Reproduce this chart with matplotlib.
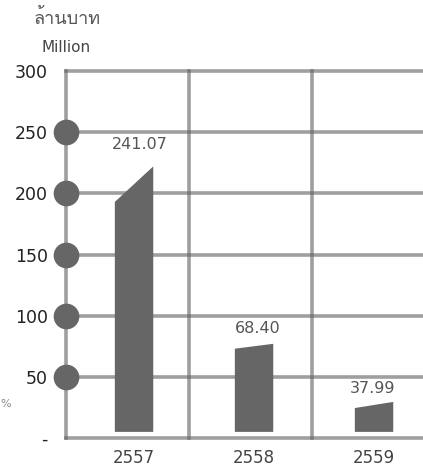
import matplotlib
matplotlib.use('Agg')
import matplotlib.pyplot as plt
from matplotlib import font_manager
from matplotlib.ft2font import FT2Font

# data
years = ['2557', '2558', '2559']
values = [241.07, 68.40, 37.99]          # printed labels
bar_left_top = [193, 73, 24.5]            # drawn slanted tops (left edge)
bar_right_top = [222, 77, 29.5]           # drawn slanted tops (right edge)
bar_bottom = 5
y_ticks = [0, 50, 100, 150, 200, 250, 300]
y_labels = ['-', '50', '100', '150', '200', '250', '300']
dot_levels = [50, 100, 150, 200, 250]

# find an installed regular-weight font that has Thai glyphs
thai_family = None
for f in sorted(font_manager.fontManager.ttflist,
                key=lambda f: abs(int(f.weight) - 400) if str(f.weight).isdigit() else 500):
    try:
        if f.style == 'normal' and 0x0E25 in FT2Font(f.fname).get_charmap():
            thai_family = f.name
            break
    except Exception:
        pass
title_fonts = [thai_family, 'DejaVu Sans'] if thai_family else ['DejaVu Sans']

plt.rcParams['font.family'] = ['DejaVu Sans']

W, H = 423, 474
fig = plt.figure(figsize=(W / 100, H / 100), dpi=100)
ax = fig.add_axes([66 / W, (H - 438) / H, (W - 66) / W, (438 - 71) / H])
ax.set_xlim(-0.567, 2.408)
ax.set_ylim(0, 300)
for s in ax.spines.values():
    s.set_visible(False)

grid_kw = dict(color='#606060', alpha=0.6, lw=2.6, clip_on=False, zorder=1)
for y in y_ticks:
    ax.axhline(y, **grid_kw)
for x in [-0.567, 0.458, 1.483]:
    ax.axvline(x, **grid_kw)

# dots on the left axis
ax.plot([-0.567] * len(dot_levels), dot_levels, 'o', ms=18.5, color='#666666',
        mew=0, clip_on=False, zorder=4)

# slanted bars
bw = 0.32
label_gap = [12, 6, 4.5]
label_shift = [0.05, 0.035, -0.015]
for i, (lt, rt) in enumerate(zip(bar_left_top, bar_right_top)):
    x0, x1 = i - bw / 2, i + bw / 2
    ax.fill([x0, x1, x1, x0], [bar_bottom, bar_bottom, rt, lt],
            color='#666666', lw=0, zorder=3)
    ax.text(i + label_shift[i], rt + label_gap[i], f'{values[i]:.2f}', ha='center',
            va='bottom', fontsize=11.5, color='#555555')

ax.set_xticks(range(len(years)))
ax.set_xticklabels(years, fontsize=12, color='#444444')
ax.set_yticks(y_ticks)
ax.set_yticklabels(y_labels, fontsize=12.5, color='#222222')
ax.tick_params(length=0)
ax.tick_params(axis='y', pad=13)
ax.tick_params(axis='x', pad=8)

fig.text(67 / W, 1 - 18 / H, 'ล้านบาท', ha='center', va='center', fontsize=13,
         color='#555555', family=title_fonts)
fig.text(66 / W, 1 - 47 / H, 'Million', ha='center', va='center', fontsize=11,
         color='#444444')
fig.text(0, 1 - 404 / H, '%', ha='left', va='center', fontsize=8,
         color='#888888')

fig.savefig('out.png', dpi=100)
